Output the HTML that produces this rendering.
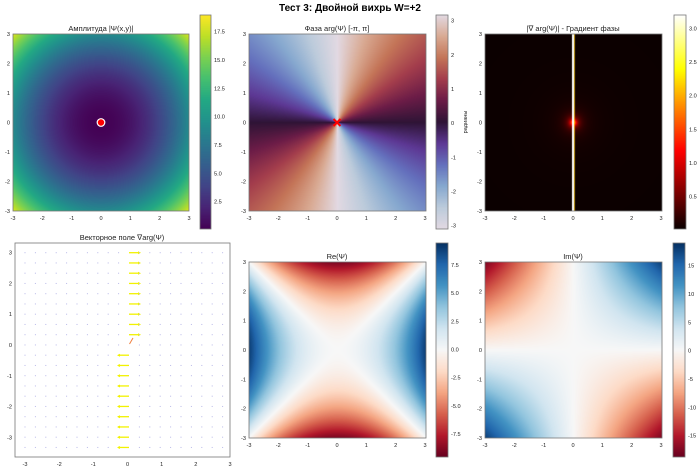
<!DOCTYPE html>
<html><head><meta charset="utf-8"><style>
html,body{margin:0;padding:0;background:#fff;width:700px;height:471px;overflow:hidden}
canvas{position:absolute}
svg{position:absolute;left:0;top:0}
text{font-family:"Liberation Sans","DejaVu Sans",sans-serif;fill:#222}
.t{font-size:5.6px}
.h{font-size:7.5px}
</style></head><body>
<canvas id="c1" width="176" height="177" style="left:13px;top:34px"></canvas>
<canvas id="c2" width="177" height="177" style="left:249px;top:34px"></canvas>
<canvas id="c3" width="177" height="177" style="left:485px;top:34px"></canvas>
<canvas id="c5" width="177" height="176" style="left:249px;top:262px"></canvas>
<canvas id="c6" width="177" height="176" style="left:485px;top:262px"></canvas>
<canvas id="b1" width="11" height="214" style="left:200px;top:15px"></canvas>
<canvas id="b2" width="12" height="214" style="left:436px;top:15px"></canvas>
<canvas id="b3" width="12" height="214" style="left:674px;top:15px"></canvas>
<canvas id="b5" width="12" height="214" style="left:436px;top:243px"></canvas>
<canvas id="b6" width="12" height="214" style="left:673px;top:243px"></canvas>
<svg width="700" height="471" id="s">
<text x="350" y="11" text-anchor="middle" style="font-size:10px;font-weight:bold;fill:#000">Тест 3: Двойной вихрь W=+2</text>
<g fill="none" stroke="#777" stroke-width="0.8">
<rect x="13" y="34" width="176" height="177"/><rect x="249" y="34" width="177" height="177"/><rect x="485" y="34" width="177" height="177"/>
<rect x="15" y="243" width="215" height="214"/><rect x="249" y="262" width="177" height="176"/><rect x="485" y="262" width="177" height="176"/>
<rect x="200" y="15" width="11" height="214"/><rect x="436" y="15" width="12" height="214"/><rect x="674" y="15" width="12" height="214"/>
<rect x="436" y="243" width="12" height="214"/><rect x="673" y="243" width="12" height="214"/>
</g>
<text class="h" x="101" y="31" text-anchor="middle">Амплитуда |Ψ(x,y)|</text>
<text class="h" x="337" y="31" text-anchor="middle">Фаза arg(Ψ) [-π, π]</text>
<text class="h" x="573" y="31" text-anchor="middle">|∇ arg(Ψ)| - Градиент фазы</text>
<text class="h" x="122" y="240" text-anchor="middle">Векторное поле ∇arg(Ψ)</text>
<text class="h" x="337" y="259" text-anchor="middle">Re(Ψ)</text>
<text class="h" x="573" y="259" text-anchor="middle">Im(Ψ)</text>
<text class="t" x="467" y="122" text-anchor="middle" transform="rotate(-90 467 122)">радианы</text>
<g class="t" text-anchor="middle">
<text x="13" y="220">-3</text><text x="42.3" y="220">-2</text><text x="71.7" y="220">-1</text><text x="101" y="220">0</text><text x="130.3" y="220">1</text><text x="159.7" y="220">2</text><text x="189" y="220">3</text>
<text x="249" y="220">-3</text><text x="278.3" y="220">-2</text><text x="307.7" y="220">-1</text><text x="337" y="220">0</text><text x="366.3" y="220">1</text><text x="395.7" y="220">2</text><text x="425" y="220">3</text>
<text x="485" y="220">-3</text><text x="514.3" y="220">-2</text><text x="543.7" y="220">-1</text><text x="573" y="220">0</text><text x="602.3" y="220">1</text><text x="631.7" y="220">2</text><text x="661" y="220">3</text>
<text x="249" y="447">-3</text><text x="278.3" y="447">-2</text><text x="307.7" y="447">-1</text><text x="337" y="447">0</text><text x="366.3" y="447">1</text><text x="395.7" y="447">2</text><text x="425" y="447">3</text>
<text x="485" y="447">-3</text><text x="514.3" y="447">-2</text><text x="543.7" y="447">-1</text><text x="573" y="447">0</text><text x="602.3" y="447">1</text><text x="631.7" y="447">2</text><text x="661" y="447">3</text>
<text x="25" y="466">-3</text><text x="59.2" y="466">-2</text><text x="93.3" y="466">-1</text><text x="127.5" y="466">0</text><text x="161.7" y="466">1</text><text x="195.8" y="466">2</text><text x="230" y="466">3</text>
</g>
<g class="t" text-anchor="end">
<text x="10" y="36">3</text><text x="10" y="65.5">2</text><text x="10" y="95">1</text><text x="10" y="124.5">0</text><text x="10" y="154">-1</text><text x="10" y="183.5">-2</text><text x="10" y="213">-3</text>
<text x="246" y="36">3</text><text x="246" y="65.5">2</text><text x="246" y="95">1</text><text x="246" y="124.5">0</text><text x="246" y="154">-1</text><text x="246" y="183.5">-2</text><text x="246" y="213">-3</text>
<text x="482" y="36">3</text><text x="482" y="65.5">2</text><text x="482" y="95">1</text><text x="482" y="124.5">0</text><text x="482" y="154">-1</text><text x="482" y="183.5">-2</text><text x="482" y="213">-3</text>
<text x="246" y="264">3</text><text x="246" y="293.3">2</text><text x="246" y="322.7">1</text><text x="246" y="352">0</text><text x="246" y="381.3">-1</text><text x="246" y="410.7">-2</text><text x="246" y="440">-3</text>
<text x="482" y="264">3</text><text x="482" y="293.3">2</text><text x="482" y="322.7">1</text><text x="482" y="352">0</text><text x="482" y="381.3">-1</text><text x="482" y="410.7">-2</text><text x="482" y="440">-3</text>
<text x="12" y="254.6">3</text><text x="12" y="285.4">2</text><text x="12" y="316.2">1</text><text x="12" y="347">0</text><text x="12" y="377.8">-1</text><text x="12" y="408.6">-2</text><text x="12" y="439.4">-3</text>
</g>
<g class="t">
<text x="214" y="33.7">17.5</text><text x="214" y="62">15.0</text><text x="214" y="90.3">12.5</text><text x="214" y="118.7">10.0</text><text x="214" y="147">7.5</text><text x="214" y="175.3">5.0</text><text x="214" y="203.7">2.5</text>
<text x="451" y="22.7">3</text><text x="451" y="56.8">2</text><text x="451" y="91">1</text><text x="451" y="125.2">0</text><text x="451" y="159.3">-1</text><text x="451" y="193.5">-2</text><text x="451" y="227.7">-3</text>
<text x="689" y="30.3">3.0</text><text x="689" y="64">2.5</text><text x="689" y="97.6">2.0</text><text x="689" y="131.3">1.5</text><text x="689" y="165">1.0</text><text x="689" y="198.7">0.5</text>
<text x="451" y="267">7.5</text><text x="451" y="295.2">5.0</text><text x="451" y="323.3">2.5</text><text x="451" y="351.5">0.0</text><text x="451" y="379.7">-2.5</text><text x="451" y="407.8">-5.0</text><text x="451" y="436">-7.5</text>
<text x="688" y="267.7">15</text><text x="688" y="296">10</text><text x="688" y="324.3">5</text><text x="688" y="352.7">0</text><text x="688" y="381">-5</text><text x="688" y="409.3">-10</text><text x="688" y="437.7">-15</text>
</g>
<circle cx="101" cy="122.5" r="3.8" fill="#f00" stroke="#fff" stroke-width="1.2"/>
<path d="M333.5 119 L340.5 126 M340.5 119 L333.5 126" stroke="#f00" stroke-width="2"/>
<g id="vf"></g>
</svg>
<script>
function hex(h){return [parseInt(h.substr(1,2),16),parseInt(h.substr(3,2),16),parseInt(h.substr(5,2),16)]}
function cmap(stops){stops=stops.map(s=>[s[0],hex(s[1])]);return function(t){t=Math.max(0,Math.min(1,t));for(let i=1;i<stops.length;i++){if(t<=stops[i][0]){const a=stops[i-1],b=stops[i];const f=(t-a[0])/(b[0]-a[0]||1);return [0,1,2].map(k=>a[1][k]+(b[1][k]-a[1][k])*f)}}return stops[stops.length-1][1]}}
const vir=cmap([[0,'#440154'],[.1,'#482475'],[.2,'#414487'],[.3,'#355f8d'],[.4,'#2a788e'],[.5,'#21918c'],[.6,'#22a884'],[.7,'#44bf70'],[.8,'#7ad151'],[.9,'#bddf26'],[1,'#fde725']]);
const tw=cmap([[0,'#e2d9e2'],[.1,'#bccbdb'],[.2,'#86a8cf'],[.3,'#6470bd'],[.4,'#5d3894'],[.5,'#2f1436'],[.6,'#6b1c47'],[.7,'#a33d4c'],[.8,'#c47558'],[.9,'#d9aa93'],[1,'#e2d9e2']]);
const rdbu=cmap([[0,'#67001f'],[.1,'#b2182b'],[.2,'#d6604d'],[.3,'#f4a582'],[.4,'#fddbc7'],[.5,'#f7f7f7'],[.6,'#d1e5f0'],[.7,'#92c5de'],[.8,'#4393c3'],[.9,'#2166ac'],[1,'#053061']]);
const hot=cmap([[0,'#0a0000'],[.365,'#ff0000'],[.746,'#ffff00'],[1,'#ffffff']]);
function paint(id,f){const c=document.getElementById(id),x=c.getContext('2d'),W=c.width,H=c.height,im=x.createImageData(W,H);
for(let j=0;j<H;j++)for(let i=0;i<W;i++){const X=-3+6*(i+.5)/W,Y=3-6*(j+.5)/H;const col=f(X,Y,i,j);const p=(j*W+i)*4;im.data[p]=col[0];im.data[p+1]=col[1];im.data[p+2]=col[2];im.data[p+3]=255}x.putImageData(im,0,0)}
paint('c1',(X,Y)=>vir((X*X+Y*Y)/19));
paint('c2',(X,Y)=>{let a=2*Math.atan2(Y,X);a=Math.atan2(Math.sin(a),Math.cos(a));return tw((a+Math.PI)/(2*Math.PI))});
paint('c3',(X,Y)=>{const r2=X*X+Y*Y;let v=0.04/(r2+0.01)*0.5+0.02/(Math.sqrt(r2)+0.3);return hot(v/3.2)});
paint('c5',(X,Y)=>rdbu((X*X-Y*Y)/18.9+.5));
paint('c6',(X,Y)=>rdbu((2*X*Y)/38+.5));
paint('b1',(X,Y,i,j)=>vir(1-(j+.5)/214));
paint('b2',(X,Y,i,j)=>tw(1-(j+.5)/214));
paint('b3',(X,Y,i,j)=>hot(1-(j+.5)/214));
paint('b5',(X,Y,i,j)=>rdbu(1-(j+.5)/214));
paint('b6',(X,Y,i,j)=>rdbu(1-(j+.5)/214));
(function(){const x=document.getElementById('c3').getContext('2d');x.fillStyle='#fff';x.fillRect(87,0,2,177);x.fillStyle='rgba(255,200,0,0.7)';x.fillRect(89,0,1,177);})();
(function(){const g=document.getElementById('vf');let s='';
for(let r=0;r<20;r++)for(let c=0;c<20;c++){const x=25+c*10.4,y=252.7+r*10.25;
if(c===10){ if(r<9){s+=`<line x1="${x}" y1="${y}" x2="${x+11}" y2="${y}" stroke="#f2f200" stroke-width="1.3"/><path d="M${x+12} ${y} l-3 -1.5 v3z" fill="#f2f200"/>`}
 else if(r===9){s+=`<line x1="${x+0.5}" y1="${y-1}" x2="${x+4}" y2="${y-7}" stroke="#f08040" stroke-width="1"/>`}
 else {s+=`<line x1="${x}" y1="${y}" x2="${x-11}" y2="${y}" stroke="#f2f200" stroke-width="1.3"/><path d="M${x-12} ${y} l3 -1.5 v3z" fill="#f2f200"/>`}
}else s+=`<rect x="${x-0.5}" y="${y-0.5}" width="1" height="1" fill="#b8b8e8"/>`;}
g.innerHTML=s;})();
</script>
</body></html>
